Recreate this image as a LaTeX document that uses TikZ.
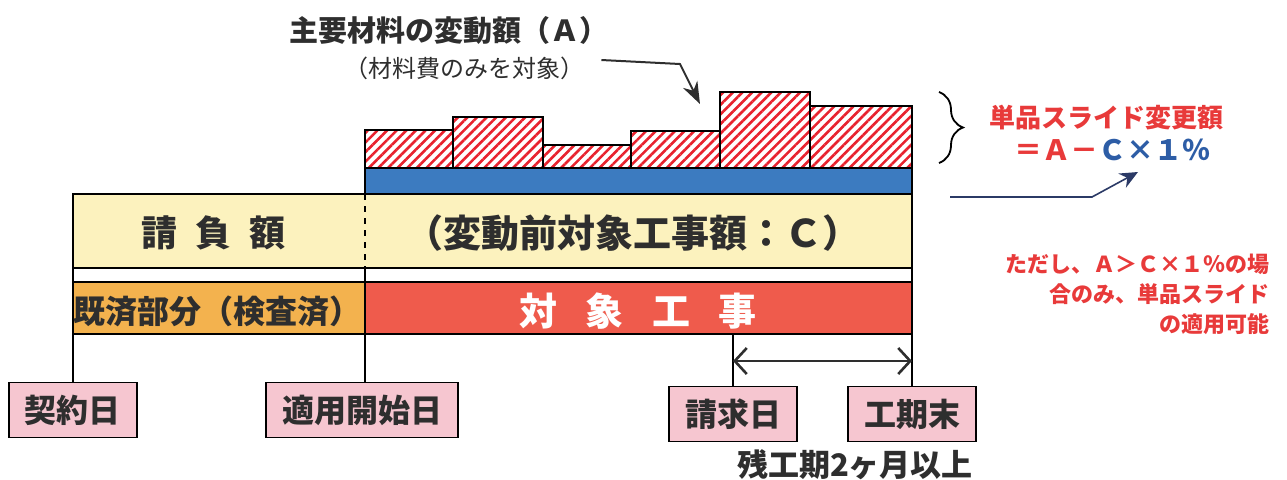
\documentclass[tikz,border=0pt]{standalone}
\usepackage{fontspec}
\setmainfont{Noto Sans CJK JP}
\usetikzlibrary{arrows.meta, patterns.meta, decorations.pathreplacing}
\tikzset{>=latex}
\definecolor{ink}{HTML}{2E2E2E}
\definecolor{cream}{HTML}{FCF2BE}
\definecolor{barblue}{HTML}{3C7BC0}
\definecolor{doneorange}{HTML}{F3B24E}
\definecolor{workred}{HTML}{EF5B4C}
\definecolor{pinkbox}{HTML}{F6C6D0}
\definecolor{hatchred}{HTML}{E8222E}
\definecolor{alertred}{HTML}{E83A3A}
\definecolor{formblue}{HTML}{2D5DA6}
\definecolor{navy}{HTML}{2B3A66}

\begin{document}
\begin{tikzpicture}[x=.5pt, y=-.5pt, line width=.8pt,
    txt/.style={text=ink, font=\bfseries\fontsize{#1}{#1}\selectfont},
    hatch/.style={draw=black, pattern={Lines[angle=45, distance=3.4pt, line width=1.3pt]}, pattern color=hatchred},
    datebox/.style={draw, fill=pinkbox, inner xsep=8pt, minimum height=27.5pt, txt=16},
    vline/.style={line width=1.2pt},
    span/.style={{Straight Barb[length=6pt, width=13pt]}-{Straight Barb[length=6pt, width=13pt]}, line width=1.3pt, ink}]
    \useasboundingbox (0,0) rectangle (1287,479);
    % material amounts
    \foreach \xa/\xb/\yt in {365/453/130, 453/543/117, 543/631/145, 631/720/131, 720/810/92, 810/912/106}
        \draw[hatch] (\xa,168) rectangle (\xb,\yt);
    \draw[fill=barblue] (365,168) rectangle (912,194);
    \draw[fill=cream] (73,194) rectangle (912,268);
    \draw[dashed] (365,194) -- (365,268);
    \draw (73,268) rectangle (912,282);
    \draw[fill=doneorange] (73,282) rectangle (365,334);
    \draw[fill=workred] (365,282) rectangle (912,334);
    % labels
    \node[txt=14.5] (title) at (449,30) {主要材料の変動額（Ａ）};
    \node[text=ink, font=\fontsize{12}{12}\selectfont] (sub) at (464,68) {（材料費のみを対象）};
    \node[txt=18] (ukeoi) at (213,233) {請\hspace{.5em}負\hspace{.5em}額};
    \node[txt=19] (before) at (633,233) {（変動前対象工事額：Ｃ）};
    \node[txt=16] (kisai) at (218,311) {既済部分（検査済）};
    \node[txt=19, text=white] (koji) at (638,311) {対\hspace{.75em}象\hspace{.75em}工\hspace{.75em}事};
    % dates
    \node[datebox] (keiyaku) at (73,410) {契約日};
    \node[datebox] (tekiyo) at (362,410) {適用開始日};
    \node[datebox] (seikyu) at (733,414) {請求日};
    \node[datebox] (kouki) at (912,414) {工期末};
    \draw[vline] (73,334) -- (keiyaku);
    \draw[vline] (365,268) -- (365,268 |- tekiyo.north);
    \draw[vline] (733,334) -- (seikyu);
    \draw[vline] (912,334) -- (kouki);
    \draw[span] (seikyu.north |- 0,361) -- (kouki.north |- 0,361);
    \node[txt=15.5] (zan) at (855,465) {残工期2ヶ月以上};
    % arrows
    \coordinate (bendA) at (680,64);
    \coordinate (tipA) at (700,104);
    \draw[ink, line width=1pt, -{Stealth[length=11pt, width=8pt]}] ([xshift=5pt, yshift=4pt]sub.east) -- (bendA) -- (tipA);
    \draw[decorate, decoration={brace, amplitude=12pt}, line width=.9pt] (939,92) -- (939,163);
    \node[txt=13, text=alertred] (slide) at (1106,118) {単品スライド変更額};
    \node[txt=14] (formula) at (1112,150) {\textcolor{alertred}{＝Ａ－}\textcolor{formblue}{Ｃ×１％}};
    \coordinate (fromB) at (950,197);
    \coordinate (bendB) at (1092,197);
    \coordinate (tipB) at (1138,172);
    \draw[navy, line width=.8pt, -{Stealth[length=9pt, width=8pt]}] (fromB) -- (bendB) -- (tipB);
    \node[text=alertred, font=\bfseries\fontsize{11}{15}\selectfont, align=right, anchor=north east] (note) at (1277,247) {ただし、Ａ＞Ｃ×１％の場\\合のみ、単品スライド\\の適用可能};
\end{tikzpicture}
\end{document}
